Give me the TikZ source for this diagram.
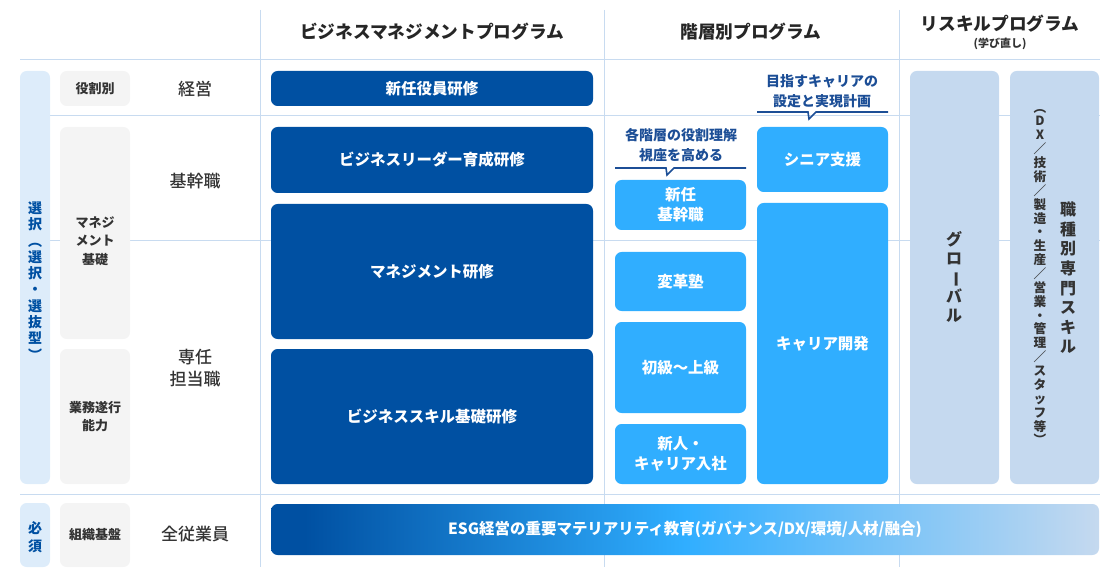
\documentclass[tikz,border=0pt]{standalone}
\usepackage{fontspec}
\setmainfont{Noto Sans CJK JP}
\newfontfamily\medjp{Noto Sans CJK JP Medium}
\usetikzlibrary{fit}
\definecolor{GridLine}{RGB}{200,219,240}
\definecolor{PaleBlue}{RGB}{221,236,250}
\definecolor{PanelGray}{RGB}{244,244,244}
\definecolor{DeepBlue}{RGB}{0,80,162}
\definecolor{SkyBlue}{RGB}{48,174,255}
\definecolor{Lavender}{RGB}{197,217,239}
\definecolor{InkGray}{RGB}{51,51,51}
\definecolor{NoteBlue}{RGB}{28,78,150}

\pgfdeclarehorizontalshading{esgshade}{100bp}{color(0bp)=(DeepBlue); color(27bp)=(DeepBlue);
  color(50bp)=(SkyBlue); color(75bp)=(Lavender); color(100bp)=(Lavender)}

\newcommand{\vbar}{\rotatebox[origin=c]{-90}{ー}}

\tikzset{
  gridline/.style={GridLine,line width=0.75pt},
  panel/.style={rounded corners=5pt,inner sep=0pt},
  deepbox/.style={panel,fill=DeepBlue},
  skybox/.style={panel,fill=SkyBlue},
  reskillbox/.style={panel,fill=Lavender},
  sidebox/.style={panel,fill=PanelGray},
  palebox/.style={panel,fill=PaleBlue},
  progtext/.style={text=white,align=center,font=\bfseries\fontsize{11.6}{14.8}\selectfont},
  sidetext/.style={text=InkGray,align=center,font=\bfseries\fontsize{9.75}{14}\selectfont},
  paletext/.style={text=DeepBlue,align=center,inner sep=0pt,font=\bfseries\fontsize{10.5}{12.2}\selectfont},
  rowlabel/.style={text=InkGray,align=center,font=\medjp\fontsize{12.75}{17}\selectfont},
  colhead/.style={text=black!85,font=\bfseries\fontsize{13.25}{15}\selectfont},
  note/.style={text=NoteBlue,align=center,font=\bfseries\fontsize{10.5}{15}\selectfont},
  noteline/.style={NoteBlue,line width=1.2pt},
  vtext/.style={text=InkGray,align=center,inner sep=0pt}
}

\begin{document}
\begin{tikzpicture}[x=0.75pt,y=-0.75pt]
  \useasboundingbox (0,0) rectangle (1120,577);
  \foreach \x in {260,604,899}
    \draw[gridline] (\x,10) -- (\x,567);
  \draw[gridline] (20,60) -- (1100,60);
  \draw[gridline] (50,116) -- (1100,116);
  \draw[gridline] (50,241) -- (1100,241);
  \draw[gridline] (20,494) -- (1100,494);

  \node[colhead] (bizhead) at (432,32) {ビジネスマネジメントプログラム};
  \node[colhead] (layerhead) at (751,32) {階層別プログラム};
  \node[colhead] (reskillhead) at (1000,24) {リスキルプログラム};
  \node[text=InkGray,font=\bfseries\fontsize{8.25}{10}\selectfont] (reskillsub) at (1000,44) {(学び直し)};

  \node[palebox,fit={(20,71) (50,484)}] (select) {};
  \node[paletext] at (35,281) {選\\択\\︵\\選\\択\\・\\選\\抜\\型\\︶};
  \node[palebox,fit={(20,503) (50,567)}] (must) {};
  \node[paletext,font=\bfseries\fontsize{10.5}{14}\selectfont] at (35,537) {必\\須};

  \node[sidebox,fit={(60,71) (130,106)}] (byrole) {};
  \node[sidetext] at (byrole) {役割別};
  \node[sidebox,fit={(60,127) (130,339)}] (mgbase) {};
  \node[sidetext] at (95,241) {マネジ\\メント\\基礎};
  \node[sidebox,fit={(60,349) (130,484)}] (dutyskill) {};
  \node[sidetext] at (dutyskill) {業務遂行\\能力};
  \node[sidebox,fit={(60,503) (130,567)}] (orgbase) {};
  \node[sidetext] at (orgbase) {組織基盤};

  \node[rowlabel] (exec) at (195,89) {経営};
  \node[rowlabel] (core) at (195,181) {基幹職};
  \node[rowlabel] (staff) at (195,368) {専任\\担当職};
  \node[rowlabel] (allstaff) at (195,534) {全従業員};

  \node[deepbox,fit={(271,71) (593,106)}] (newexec) {};
  \node[progtext] at (newexec) {新任役員研修};
  \node[deepbox,fit={(271,127) (593,193)}] (leader) {};
  \node[progtext] at (leader) {ビジネスリーダー育成研修};
  \node[deepbox,fit={(271,204) (593,339)}] (mgmt) {};
  \node[progtext] at (mgmt) {マネジメント研修};
  \node[deepbox,fit={(271,349) (593,484)}] (basic) {};
  \node[progtext] at (basic) {ビジネススキル基礎研修};

  \node[note] (noterole) at (681,145) {各階層の役割理解\\視座を高める};
  \draw[noteline] (615,168) -- (666,168) -- (667,175) -- (674,168) -- (746,168);
  \node[note] (notecareer) at (822,91) {目指すキャリアの\\設定と実現計画};
  \draw[noteline] (757,112) -- (808,112) -- (809,119) -- (816,112) -- (888,112);

  \node[skybox,fit={(615,180) (746,230)}] (newcore) {};
  \node[progtext] at (newcore) {新任\\基幹職};
  \node[skybox,fit={(615,252) (746,311)}] (reform) {};
  \node[progtext] at (reform) {変革塾};
  \node[skybox,fit={(615,322) (746,413)}] (levels) {};
  \node[progtext] at (levels) {初級～上級};
  \node[skybox,fit={(615,424) (746,484)}] (newhire) {};
  \node[progtext] at (newhire) {新人・\\キャリア入社};
  \node[skybox,fit={(757,127) (888,192)}] (senior) {};
  \node[progtext] at (senior) {シニア支援};
  \node[skybox,fit={(757,203) (888,484)}] (career) {};
  \node[progtext] at (career) {キャリア開発};

  \node[reskillbox,fit={(910,71) (999,484)}] (global) {};
  \node[vtext,font=\bfseries\fontsize{12}{14.25}\selectfont] at (954,277) {グ\\ロ\\\vbar\\バ\\ル};
  \node[reskillbox,fit={(1010,71) (1099,484)}] (jobskill) {};
  \node[vtext,font=\bfseries\fontsize{12}{14.7}\selectfont] at (1068,278) {職\\種\\別\\専\\門\\ス\\キ\\ル};
  \node[vtext,font=\bfseries\fontsize{9.5}{10.4}\selectfont] at (1040,277)
    {︵\\D\\X\\／\\技\\術\\／\\製\\造\\・\\生\\産\\／\\営\\業\\・\\管\\理\\／\\ス\\タ\\ッ\\フ\\等\\︶};

  \node[panel,fit={(271,504) (1099,555)},shading=esgshade] (esg) {};
  \node[progtext] at (esg) {ESG経営の重要マテリアリティ教育(ガバナンス/DX/環境/人材/融合)};
\end{tikzpicture}
\end{document}
